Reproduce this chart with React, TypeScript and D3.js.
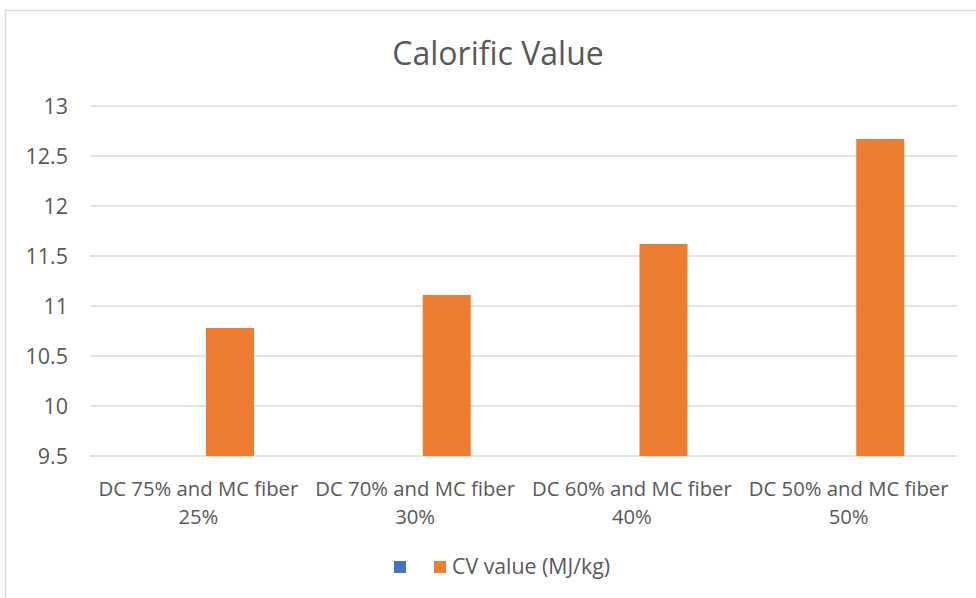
import React from "react";
import * as d3 from "d3";

const categories: string[][] = [
  ["DC 75% and MC fiber", "25%"],
  ["DC 70% and MC fiber", "30%"],
  ["DC 60% and MC fiber", "40%"],
  ["DC 50% and MC fiber", "50%"],
];
const seriesNames: string[] = ["", "CV value (MJ/kg)"];
const seriesColors: string[] = ["#4472C4", "#ED7D31"];
const blankSeries: (number | null)[] = [null, null, null, null];
const cvValues: number[] = [10.78, 11.11, 11.62, 12.67];
const yTicks: number[] = [9.5, 10, 10.5, 11, 11.5, 12, 12.5, 13];
const title = "Calorific Value";

const W = 976;
const H = 598;
const FONT = "'Open Sans', 'Noto Sans', sans-serif";
const TXT = "#595959";

export default function App() {
  const plotLeft = 90;
  const plotRight = 957;
  const plotTop = 106;
  const plotBottom = 456;

  const x0 = d3
    .scaleBand<number>()
    .domain(categories.map((_, i) => i))
    .range([plotLeft, plotRight])
    .paddingInner(0)
    .paddingOuter(0);
  const x1 = d3
    .scaleBand<number>()
    .domain([0, 1])
    .range([0, x0.bandwidth()])
    .paddingInner(0.241)
    .paddingOuter(0.834);
  const y = d3.scaleLinear().domain([9.5, 13]).range([plotBottom, plotTop]);

  const seriesData = [blankSeries, cvValues];

  return (
    <svg
      width={W}
      height={H}
      style={{ position: "absolute", left: 0, top: 0, background: "#fff" }}
      fontFamily={FONT}
    >
      <rect x={0} y={0} width={W} height={H} fill="#fff" />
      <rect x={5.5} y={10.5} width={W + 10} height={H + 10} fill="#fff" stroke="#d9d9d9" strokeWidth={1.5} />
      <text x={498} y={65} textAnchor="middle" fontSize={32} fill={TXT}>
        {title}
      </text>
      {yTicks.map((t) => (
        <g key={t}>
          <line x1={plotLeft} x2={plotRight} y1={y(t)} y2={y(t)} stroke="#d9d9d9" strokeWidth={1.5} />
          <text x={68} y={y(t)} dy="0.35em" textAnchor="end" fontSize={21.5} fill={TXT}>
            {t}
          </text>
        </g>
      ))}
      {seriesData.map((vals, s) =>
        vals.map((v, i) =>
          v == null ? null : (
            <rect
              key={`${s}-${i}`}
              x={(x0(i) as number) + (x1(s) as number)}
              width={x1.bandwidth()}
              y={y(v)}
              height={plotBottom - y(v)}
              fill={seriesColors[s]}
            />
          )
        )
      )}
      {categories.map((lines, i) => (
        <text
          key={i}
          x={(x0(i) as number) + x0.bandwidth() / 2}
          textAnchor="middle"
          fontSize={20.3}
          fill={TXT}
        >
          {lines.map((l, j) => (
            <tspan key={j} x={(x0(i) as number) + x0.bandwidth() / 2} y={496 + j * 28}>
              {l}
            </tspan>
          ))}
        </text>
      ))}
      <g>
        <rect x={394} y={561} width={12} height={12} fill={seriesColors[0]} />
        <rect x={434} y={561} width={12} height={12} fill={seriesColors[1]} />
        <text x={452} y={574} fontSize={21.3} fill={TXT}>
          {seriesNames[1]}
        </text>
      </g>
    </svg>
  );
}
